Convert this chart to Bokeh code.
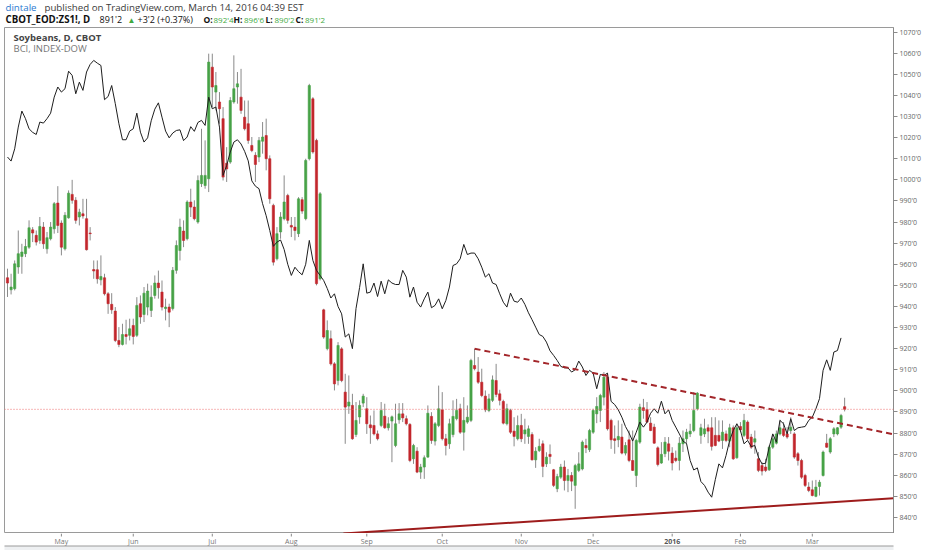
from bokeh.plotting import figure
from bokeh.layouts import column
from bokeh.models import Range1d, FixedTicker, Span, Label, ColumnDataSource
from bokeh.core.properties import value
from bokeh.embed import file_html
from bokeh.resources import INLINE

# ---------------- data ----------------
opens = [953.6, 947.9, 948.4, 958.7, 963.7, 965.0, 968.1, 976.3, 973.7, 971.3,
         977.6, 967.3, 972.1, 976.8, 989.0, 979.5, 967.3, 982.0, 993.1, 990.3,
         982.4, 983.9, 981.6, 974.8, 957.5, 957.4, 952.6, 953.6, 946.0, 941.0,
         937.8, 923.9, 922.0, 926.7, 926.3, 931.0, 926.3, 941.3, 936.2, 939.7,
         938.1, 945.2, 951.1, 946.8, 939.0, 939.7, 939.0, 957.1, 966.5, 975.7,
         972.1, 989.5, 987.1, 980.0, 998.2, 997.3, 1000.5, 1053.4, 1041.6, 1036.9,
         1029.0, 1007.9, 1008.4, 1036.9, 1044.0, 1039.2, 1029.7, 1026.6, 1016.3, 1011.6,
         1010.8, 1018.3, 1021.0, 1010.0, 987.9, 962.6, 975.3, 981.6, 992.6, 978.4,
         977.6, 974.5, 990.6, 981.6, 1010.0, 1038.4, 1018.7, 953.1, 938.4, 920.0,
         924.7, 912.8, 904.9, 919.9, 899.4, 892.8, 893.1, 879.3, 887.6, 894.2,
         891.5, 883.9, 883.6, 879.6, 883.6, 888.0, 882.5, 885.7, 874.1, 886.3,
         889.1, 886.8, 884.1, 867.8, 871.4, 861.5, 863.9, 868.6, 887.9, 876.2,
         883.6, 891.0, 877.3, 874.9, 879.3, 886.8, 891.5, 880.4, 885.2, 886.0,
         912.0, 908.9, 904.1, 897.5, 890.7, 895.5, 904.9, 898.6, 895.0, 884.4,
         890.7, 880.9, 877.3, 883.6, 879.6, 878.4, 879.3, 867.3, 871.7, 874.9,
         865.4, 869.9, 862.6, 853.6, 859.1, 863.9, 857.5, 859.9, 855.2, 862.3,
         863.0, 874.1, 872.1, 880.4, 889.1, 890.7, 897.0, 906.5, 886.0, 877.3,
         876.8, 878.1, 870.5, 876.8, 867.0, 859.9, 875.7, 892.0, 891.2, 884.7,
         882.8, 873.0, 865.8, 870.2, 874.9, 870.5, 868.1, 867.0, 874.9, 877.3,
         879.6, 881.2, 891.5, 878.9, 879.6, 882.5, 882.5, 878.9, 878.9, 876.5,
         879.6, 876.2, 882.5, 868.3, 883.1, 878.9, 885.2, 878.1, 875.7, 867.8,
         864.6, 863.9, 862.6, 873.3, 875.2, 879.6, 882.0, 879.6, 881.2, 879.6,
         870.2, 867.0, 859.9, 854.4, 853.1, 850.0, 854.7, 859.9, 875.2, 871.0,
         879.6, 879.6, 882.8, 892.5]
highs = [957.9, 955.5, 961.8, 976.0, 969.7, 972.0, 980.8, 977.6, 976.0, 982.4,
         980.0, 975.3, 980.0, 989.5, 997.0, 980.8, 984.7, 995.0, 1000.0, 991.8,
         986.3, 991.0, 991.0, 977.6, 961.8, 961.8, 964.2, 955.5, 946.8, 946.3,
         939.7, 930.2, 931.8, 933.7, 934.2, 934.2, 944.4, 945.2, 949.2, 950.8,
         950.0, 954.7, 957.0, 952.3, 943.7, 941.3, 958.7, 971.3, 981.6, 980.8,
         990.3, 995.8, 990.3, 1002.1, 1024.2, 1018.7, 1059.8, 1059.8, 1051.1, 1041.6,
         1034.5, 1015.5, 1039.2, 1059.0, 1051.1, 1052.6, 1037.6, 1037.6, 1020.3, 1013.1,
         1020.3, 1027.4, 1029.0, 1011.6, 988.7, 977.6, 984.7, 1002.1, 993.4, 982.4,
         982.4, 991.8, 991.8, 1010.0, 1045.5, 1039.2, 1019.5, 994.2, 938.9, 933.4,
         928.6, 913.6, 923.1, 920.7, 908.1, 907.3, 898.6, 894.7, 895.5, 898.6,
         897.0, 888.3, 890.7, 881.2, 894.7, 893.9, 887.5, 888.3, 893.9, 894.2,
         894.2, 888.3, 884.7, 874.9, 873.3, 865.4, 869.4, 893.1, 889.9, 885.2,
         902.5, 899.4, 879.6, 886.8, 895.5, 896.2, 893.9, 897.0, 893.1, 915.2,
         919.9, 916.0, 910.5, 900.2, 898.6, 907.3, 912.8, 900.5, 895.8, 893.9,
         891.5, 887.5, 888.3, 889.1, 886.8, 883.6, 880.4, 873.3, 877.3, 876.5,
         870.9, 874.6, 863.0, 860.7, 865.4, 867.0, 863.0, 861.5, 865.4, 870.9,
         876.5, 877.3, 882.0, 891.5, 897.0, 898.6, 908.9, 908.4, 886.8, 883.6,
         886.0, 884.4, 875.7, 881.2, 881.2, 877.3, 893.9, 896.2, 894.7, 887.5,
         884.4, 873.7, 875.7, 878.1, 878.1, 873.3, 871.7, 878.1, 881.2, 882.0,
         884.4, 899.4, 899.4, 884.4, 886.8, 884.1, 887.5, 887.5, 886.0, 886.0,
         881.2, 884.4, 883.6, 884.4, 885.2, 889.1, 886.0, 879.6, 881.2, 871.0,
         866.2, 867.8, 874.1, 879.6, 881.2, 886.3, 885.2, 882.8, 887.5, 880.4,
         871.0, 867.8, 860.7, 856.7, 857.5, 857.8, 857.8, 871.7, 879.6, 878.1,
         882.8, 882.8, 889.1, 896.75]
lows = [944.5, 945.7, 947.6, 955.5, 955.5, 963.4, 967.3, 970.5, 968.9, 969.7,
        967.3, 965.0, 971.3, 974.5, 974.8, 964.2, 966.5, 981.6, 988.7, 979.2,
        978.4, 981.6, 966.5, 971.3, 953.1, 950.8, 950.0, 945.2, 936.5, 936.5,
        923.1, 920.7, 921.5, 922.0, 923.9, 922.0, 925.5, 931.8, 932.6, 935.8,
        935.0, 943.7, 943.7, 938.1, 933.4, 930.2, 938.1, 955.5, 961.8, 968.1,
        971.3, 982.4, 980.8, 979.2, 996.6, 995.8, 994.2, 1034.5, 1032.9, 1026.6,
        999.7, 999.0, 1007.6, 1036.1, 1036.1, 1031.3, 1023.4, 1017.1, 1013.1, 999.0,
        1008.4, 1012.4, 1004.5, 988.7, 959.4, 961.8, 972.1, 980.8, 979.2, 972.9,
        971.3, 972.9, 983.9, 980.8, 1009.2, 1012.4, 950.0, 952.3, 924.7, 919.2,
        912.0, 900.2, 902.6, 904.1, 874.9, 889.1, 876.8, 878.1, 884.4, 892.3,
        879.6, 874.9, 878.9, 876.5, 882.8, 882.0, 881.2, 866.2, 873.3, 884.4,
        885.2, 883.6, 866.2, 865.4, 861.0, 858.3, 858.3, 868.3, 874.9, 874.1,
        882.8, 876.5, 869.4, 872.5, 878.0, 886.0, 879.6, 871.7, 884.4, 885.2,
        909.7, 903.3, 897.0, 889.9, 889.9, 894.7, 897.0, 893.1, 884.1, 883.6,
        879.6, 873.7, 876.5, 875.7, 874.9, 874.9, 867.0, 863.5, 871.0, 859.1,
        863.9, 865.4, 854.4, 852.0, 858.3, 852.8, 852.0, 852.5, 844.1, 861.5,
        862.3, 870.5, 871.0, 879.6, 884.7, 885.2, 893.1, 881.2, 872.5, 870.2,
        873.3, 869.9, 869.4, 866.2, 862.0, 854.4, 874.9, 886.8, 884.7, 880.9,
        874.9, 864.2, 865.4, 868.6, 867.0, 862.3, 866.2, 862.3, 871.0, 874.9,
        878.1, 880.4, 890.7, 874.9, 878.1, 875.2, 871.7, 873.7, 875.7, 872.5,
        875.7, 873.3, 867.3, 867.8, 880.4, 878.1, 876.5, 872.5, 870.2, 861.5,
        859.9, 861.5, 862.0, 872.5, 874.6, 878.9, 878.1, 877.3, 879.6, 867.8,
        864.6, 858.3, 854.4, 852.0, 850.0, 849.6, 850.4, 859.4, 873.0, 870.2,
        878.1, 878.9, 882.0, 890.25]
closes = [951.1, 949.2, 960.2, 965.0, 965.8, 968.4, 977.3, 974.8, 970.5, 977.9,
          969.7, 972.6, 977.6, 988.7, 978.4, 968.1, 983.2, 993.7, 990.3, 980.8,
          984.7, 982.9, 966.9, 974.5, 956.8, 953.1, 954.2, 946.0, 941.3, 938.4,
          923.9, 922.0, 926.7, 925.8, 929.4, 925.8, 940.5, 935.0, 946.3, 947.3,
          944.4, 951.1, 948.9, 939.7, 939.7, 937.3, 957.1, 968.9, 977.6, 971.3,
          989.5, 987.1, 981.6, 999.7, 1002.1, 1002.1, 1055.8, 1044.0, 1044.7, 1033.7,
          1001.3, 1005.2, 1037.6, 1043.2, 1045.5, 1032.9, 1024.2, 1018.7, 1013.9, 1007.3,
          1018.7, 1020.3, 1010.0, 991.0, 961.0, 974.5, 982.4, 989.5, 980.8, 977.6,
          976.0, 991.0, 985.2, 1009.2, 1044.7, 1013.2, 950.8, 993.4, 925.5, 928.6,
          912.8, 903.3, 921.5, 904.9, 892.3, 894.7, 877.3, 886.0, 893.1, 897.5,
          884.4, 882.5, 879.6, 877.3, 890.7, 882.5, 884.4, 887.7, 884.4, 889.1,
          887.2, 884.4, 867.0, 874.1, 861.5, 863.9, 868.3, 889.4, 876.5, 884.4,
          891.5, 877.3, 874.1, 884.4, 887.9, 890.7, 880.4, 886.0, 887.5, 914.4,
          910.5, 904.1, 897.8, 891.0, 896.2, 905.2, 898.3, 895.5, 884.7, 891.5,
          880.4, 878.4, 883.6, 877.3, 881.5, 882.0, 867.3, 871.4, 873.7, 864.2,
          868.6, 868.9, 855.2, 859.4, 863.9, 857.5, 859.9, 857.2, 864.6, 865.4,
          875.7, 873.0, 881.2, 890.7, 892.6, 897.8, 906.5, 882.0, 876.8, 876.5,
          878.4, 870.5, 874.1, 867.0, 862.3, 876.5, 892.3, 890.7, 885.2, 881.2,
          875.2, 865.1, 869.9, 875.7, 871.4, 865.8, 867.0, 875.2, 877.3, 880.4,
          880.9, 890.7, 898.9, 882.5, 882.0, 880.9, 873.7, 874.1, 876.2, 880.4,
          876.5, 882.5, 867.8, 882.5, 881.5, 886.0, 877.3, 873.3, 877.3, 862.3,
          862.0, 862.3, 873.3, 877.3, 879.6, 882.5, 878.9, 878.1, 882.8, 868.6,
          867.0, 859.1, 855.2, 852.8, 850.4, 854.4, 856.7, 871.0, 873.3, 877.3,
          882.0, 882.5, 888.3, 891.25]
# BCI overlay, drawn on the chart's own price scale
bci = [1010.8, 1008.9, 1014.7, 1025.0, 1032.6, 1029.0, 1024.2, 1022.5, 1021.5, 1027.4,
       1026.9, 1029.0, 1031.6, 1039.2, 1044.0, 1041.6, 1043.2, 1051.5, 1049.5, 1040.8,
       1046.3, 1042.4, 1051.1, 1054.7, 1056.6, 1055.3, 1054.2, 1038.0, 1039.5, 1044.7,
       1036.1, 1026.6, 1019.0, 1019.0, 1023.1, 1024.2, 1031.6, 1022.6, 1017.9, 1019.9,
       1028.0, 1033.5, 1036.5, 1029.7, 1023.1, 1019.9, 1022.2, 1023.4, 1023.7, 1018.6,
       1020.3, 1025.2, 1023.0, 1027.2, 1028.2, 1025.8, 1039.2, 1033.7, 1034.5, 1025.0,
       1002.1, 1006.8, 1013.2, 1017.9, 1019.0, 1017.0, 1013.5, 1009.0, 999.5, 997.0,
       995.8, 988.7, 983.0, 976.0, 968.5, 970.5, 971.5, 967.0, 960.0, 954.7,
       958.6, 956.5, 955.0, 960.0, 971.3, 961.8, 957.1, 954.7, 952.3, 948.5,
       944.0, 946.0, 940.0, 936.5, 925.5, 927.0, 920.0, 939.0, 949.0, 960.2,
       946.3, 946.8, 951.1, 944.7, 952.0, 946.0, 952.6, 951.1, 950.4, 950.4,
       957.1, 953.9, 944.4, 949.2, 942.0, 939.7, 943.6, 946.8, 939.4, 940.5,
       943.6, 938.9, 942.8, 949.2, 959.4, 960.2, 962.6, 969.4, 964.6, 965.3,
       965.3, 962.6, 958.6, 953.9, 955.5, 951.1, 950.4, 946.0, 942.0, 939.7,
       946.3, 942.5, 942.0, 944.0, 941.0, 937.0, 933.7, 930.2, 926.7, 925.8,
       923.1, 919.0, 916.8, 914.4, 911.6, 910.9, 910.9, 908.9, 910.0, 914.1,
       911.3, 907.3, 909.7, 908.4, 901.0, 907.8, 907.3, 908.4, 895.0, 893.5,
       891.0, 887.5, 883.1, 880.0, 876.2, 880.4, 885.2, 882.8, 885.2, 889.4,
       891.5, 889.4, 895.1, 889.1, 891.0, 886.0, 882.8, 879.6, 876.2, 875.0,
       867.0, 862.5, 863.5, 857.0, 855.2, 852.0, 849.6, 857.9, 865.4, 863.5,
       869.4, 876.5, 881.2, 884.4, 881.2, 874.9, 876.5, 873.6, 874.1, 868.6,
       865.4, 865.7, 873.3, 879.6, 875.7, 886.0, 884.4, 879.6, 886.8, 881.2,
       882.5, 882.8, 883.1, 886.0, 887.5, 891.5, 896.3, 909.7, 914.7, 909.7,
       918.4, 919.1, 925.1]
last_close = 891.25
# drawn trend lines (bar index, price)
resist_x = [130, 246.6]
resist_y = [920.0, 879.4]
support_x = [93.5, 246.6]
support_y = [832.4, 849.1]
month_idx = [15, 35, 57, 79, 100, 121, 143, 163, 185, 204, 224]
month_lbl = ["May", "Jun", "Jul", "Aug", "Sep", "Oct", "Nov", "Dec", "2016", "Feb", "Mar"]
y_ticks = [840, 850, 860, 870, 880, 890, 900, 910, 920, 930, 940, 950,
           960, 970, 980, 990, 1000, 1010, 1020, 1030, 1040, 1050, 1060, 1070]
y_tick_lbl = ["840'0", "850'0", "860'0", "870'0", "880'0", "890'0", "900'0", "910'0",
              "920'0", "930'0", "940'0", "950'0", "960'0", "970'0", "980'0", "990'0",
              "1000'0", "1010'0", "1020'0", "1030'0", "1040'0", "1050'0", "1060'0", "1070'0"]
header_line1 = ["dintale", "published on TradingView.com, March 14, 2016 04:39 EST"]
header_line2 = ["CBOT_EOD:ZS1!, D", "891'2", "\u25b2", "+3'2 (+0.37%)",
                "O:", "892'4", "H:", "896'6", "L:", "890'2", "C:", "891'2"]
pane_titles = ["Soybeans, D, CBOT", "BCI, INDEX-DOW"]

# ---------------- styles / layout ----------------
UP = "#47a247"
DOWN = "#c2262c"
WICK = "#8a8a8a"
FONT = "Open Sans"
W = 932
FRAME_L, FRAME_R = 4, 39        # px left of / right of the frame (shared by the column)

# ---------------- header strip (its frame is aligned to the chart frame) ----------------
hdr = figure(width=W, height=27, x_range=Range1d(FRAME_L, W - FRAME_R),
             y_range=Range1d(27, 0), toolbar_location=None, output_backend="svg",
             min_border_left=FRAME_L, min_border_right=FRAME_R,
             min_border_top=0, min_border_bottom=0)
hdr.axis.visible = False
hdr.grid.visible = False
hdr.outline_line_color = None
hdr.background_fill_color = "white"
hdr.border_fill_color = "white"

l1_x = [5, 44]
l1_col = ["#2a79d0", "#3a3a3a"]
hdr.text(x=l1_x, y=[7, 7], text=header_line1, text_color=l1_col,
         text_font=value(FONT), text_font_size="9.7px", text_baseline="middle")
l2_x = [5, 99, 127, 137, 203, 213, 233, 243.5, 265, 274, 295, 304.5]
l2_col = ["#111", "#111", "#3faa3f", "#111", "#111", "#3faa3f",
          "#111", "#3faa3f", "#111", "#3faa3f", "#111", "#3faa3f"]
l2_size = ["9.7px", "9px", "8px", "9px", "8.5px", "8px",
           "8.5px", "8px", "8.5px", "8px", "8.5px", "8px"]
l2_bold = [0, 4, 6, 8, 10]
l2_norm = [1, 2, 3, 5, 7, 9, 11]
for group, style in ((l2_bold, "bold"), (l2_norm, "normal")):
    hdr.text(x=[l2_x[k] for k in group], y=[19] * len(group),
             text=[header_line2[k] for k in group],
             text_color=[l2_col[k] for k in group],
             text_font_size=[l2_size[k] for k in group],
             text_font=value(FONT), text_font_style=style, text_baseline="middle")

# ---------------- main chart ----------------
xrange_bars = Range1d(-0.835, 246.6)
p = figure(width=W, height=506, x_range=xrange_bars,
           y_range=Range1d(832.4, 1072.2), y_axis_location="right",
           x_axis_location=None, toolbar_location=None, output_backend="svg",
           min_border_left=FRAME_L, min_border_top=0, min_border_bottom=0,
           min_border_right=FRAME_R)
p.grid.visible = False
p.background_fill_color = "white"
p.border_fill_color = "white"
p.outline_line_color = "#9a9a9a"

idx = list(range(len(opens)))
tops = [max(o, c) for o, c in zip(opens, closes)]
bots = [min(o, c) for o, c in zip(opens, closes)]
cols = [UP if c >= o else DOWN for o, c in zip(opens, closes)]
src = ColumnDataSource(dict(x=idx, o=opens, h=highs, l=lows, c=closes,
                            top=tops, bot=bots, col=cols))

p.add_layout(Span(location=last_close, dimension="width", line_color="#ee7070",
                  line_dash="1 2", line_width=1))
p.segment(x0="x", y0="l", x1="x", y1="h", source=src, line_color=WICK, line_width=1)
p.vbar(x="x", width=0.62, top="top", bottom="bot", source=src,
       fill_color="col", line_color="col", line_width=0.6)
p.line(list(range(len(bci))), bci, line_color="#1e1e1e", line_width=1)
p.line(resist_x, resist_y, line_color="#a3262a", line_width=2, line_dash="6 4")
p.line(support_x, support_y, line_color="#9e1c1c", line_width=2)

for k, (t, yv) in enumerate(zip(pane_titles, [1067.5, 1062.3])):
    p.add_layout(Label(x=9, y=yv, x_units="screen", y_units="data", text=t,
                       text_font=FONT, text_font_size="9.5px",
                       text_font_style="bold" if k == 0 else "normal",
                       text_color="#444" if k == 0 else "#777",
                       text_baseline="middle"))

ya = p.yaxis[0]
ya.ticker = FixedTicker(ticks=y_ticks)
ya.major_label_overrides = {t: s for t, s in zip(y_ticks, y_tick_lbl)}
ya.axis_line_color = "#8a8a8a"
ya.major_tick_line_color = "#8a8a8a"
ya.major_tick_in = 0
ya.major_tick_out = 4
ya.minor_tick_line_color = None
ya.major_label_standoff = 2
ya.major_label_text_font = FONT
ya.major_label_text_font_size = "7px"
ya.major_label_text_color = "#666"

# ---------------- time-axis strip (shares the bar-index range) ----------------
xs = figure(width=W, height=17, x_range=xrange_bars, y_range=Range1d(17, 0),
            toolbar_location=None, output_backend="svg",
            min_border_left=FRAME_L, min_border_right=FRAME_R,
            min_border_top=0, min_border_bottom=0)
xs.axis.visible = False
xs.grid.visible = False
xs.outline_line_color = None
xs.background_fill_color = "white"
xs.border_fill_color = "white"
xs.quad(left=[-5], right=[260], top=[12.5], bottom=[18], fill_color="#eef0f2",
        line_color=None)
xs.segment(x0=[-5], y0=[12.5], x1=[260], y1=[12.5], line_color="#9a9a9a", line_width=1)
xs.segment(x0=month_idx, y0=[0] * len(month_idx), x1=month_idx, y1=[3] * len(month_idx),
           line_color="#8a8a8a", line_width=1)
bold_m = [k for k, s in enumerate(month_lbl) if s.isdigit()]
norm_m = [k for k, s in enumerate(month_lbl) if not s.isdigit()]
for group, style, colr in ((norm_m, "normal", "#777"), (bold_m, "bold", "#555")):
    xs.text(x=[month_idx[k] for k in group], y=[7.5] * len(group),
            text=[month_lbl[k] for k in group], text_font=value(FONT),
            text_font_size="7px", text_font_style=style, text_color=colr,
            text_align="center", text_baseline="middle")

layout = column(hdr, p, xs, spacing=0)
open("out.html", "w").write(file_html(layout, INLINE))
